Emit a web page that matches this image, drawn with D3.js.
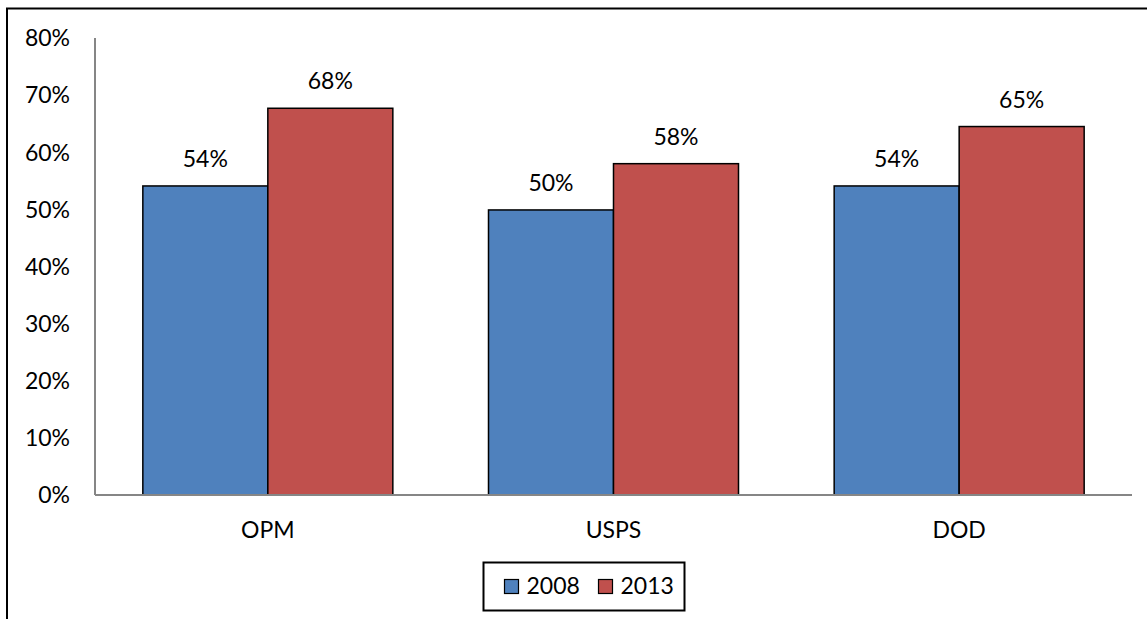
<!DOCTYPE html>
<html>
<head>
<meta charset="utf-8">
<script src="https://cdn.jsdelivr.net/npm/d3@7"></script>
<style>
  body { margin: 0; background: #fff; }
  text { font-family: Lato, "Open Sans", sans-serif; fill: #000; }
</style>
</head>
<body>
<div id="chart"></div>
<script>
// data
const categories = ["OPM", "USPS", "DOD"];
const seriesNames = ["2008", "2013"];
const values2008 = [0.541, 0.499, 0.541];
const values2013 = [0.677, 0.580, 0.645];
const yTicks = [0, 0.1, 0.2, 0.3, 0.4, 0.5, 0.6, 0.7, 0.8];
const colors = ["#4F81BD", "#C0504D"];

const width = 1147, height = 619;
const plot = { left: 95, right: 1132, top: 38, bottom: 495 };

const svg = d3.select("#chart").append("svg")
    .attr("width", width)
    .attr("height", height);

// outer chart border (runs off the right and bottom of the picture)
svg.append("rect")
    .attr("x", 7)
    .attr("y", 8.5)
    .attr("width", 1300)
    .attr("height", 800)
    .style("fill", "none")
    .style("stroke", "#000")
    .style("stroke-width", 2);

let x0 = d3.scaleBand()
    .domain(categories)
    .range([plot.left, plot.right]);

let x1 = d3.scaleBand()
    .domain(seriesNames)
    .range([0, 250]);

let y = d3.scaleLinear()
    .domain([0, 0.8])
    .range([plot.bottom, plot.top]);

let pct = d3.format(".0%");

// y tick labels
svg.selectAll(".yLabel")
    .data(yTicks)
    .enter()
    .append("text")
    .attr("class", "yLabel")
    .attr("x", 70)
    .attr("y", d => y(d))
    .attr("dy", "0.36em")
    .attr("text-anchor", "end")
    .style("font-size", "23px")
    .text(d => pct(d));

// bars
let rows = [];
categories.forEach((c, i) => {
    rows.push({ cat: c, series: "2008", value: values2008[i], color: colors[0] });
    rows.push({ cat: c, series: "2013", value: values2013[i], color: colors[1] });
});

let barX = d => x0(d.cat) + (x0.bandwidth() - 250) / 2 + x1(d.series);

svg.selectAll(".bar")
    .data(rows)
    .enter()
    .append("rect")
    .attr("class", "bar")
    .attr("x", barX)
    .attr("y", d => y(d.value))
    .attr("width", x1.bandwidth())
    .attr("height", d => y(0) - y(d.value))
    .style("fill", d => d.color)
    .style("stroke", "#000")
    .style("stroke-width", 1.5);

// value labels
svg.selectAll(".valLabel")
    .data(rows)
    .enter()
    .append("text")
    .attr("class", "valLabel")
    .attr("x", d => barX(d) + x1.bandwidth() / 2)
    .attr("y", d => y(d.value) - 19)
    .attr("text-anchor", "middle")
    .style("font-size", "23px")
    .text(d => pct(d.value));

// axis lines
svg.append("line")
    .attr("x1", plot.left).attr("x2", plot.left)
    .attr("y1", plot.top).attr("y2", plot.bottom)
    .style("stroke", "#868686")
    .style("stroke-width", 2);

svg.append("line")
    .attr("x1", plot.left).attr("x2", plot.right)
    .attr("y1", plot.bottom).attr("y2", plot.bottom)
    .style("stroke", "#868686")
    .style("stroke-width", 2);

// category labels
svg.selectAll(".xLabel")
    .data(categories)
    .enter()
    .append("text")
    .attr("class", "xLabel")
    .attr("x", d => x0(d) + x0.bandwidth() / 2)
    .attr("y", 538)
    .attr("text-anchor", "middle")
    .style("font-size", "23px")
    .text(d => d);

// legend
let legend = svg.append("g");
legend.append("rect")
    .attr("x", 483.5)
    .attr("y", 562.5)
    .attr("width", 201)
    .attr("height", 48)
    .style("fill", "#fff")
    .style("stroke", "#000")
    .style("stroke-width", 2);

let legendX = [504.5, 598.5];
seriesNames.forEach((s, i) => {
    legend.append("rect")
        .attr("x", legendX[i])
        .attr("y", 579.5)
        .attr("width", 14)
        .attr("height", 14)
        .style("fill", colors[i])
        .style("stroke", "#000")
        .style("stroke-width", 1.2);
    legend.append("text")
        .attr("x", legendX[i] + 22)
        .attr("y", 594)
        .style("font-size", "23px")
        .text(s);
});
</script>
</body>
</html>
